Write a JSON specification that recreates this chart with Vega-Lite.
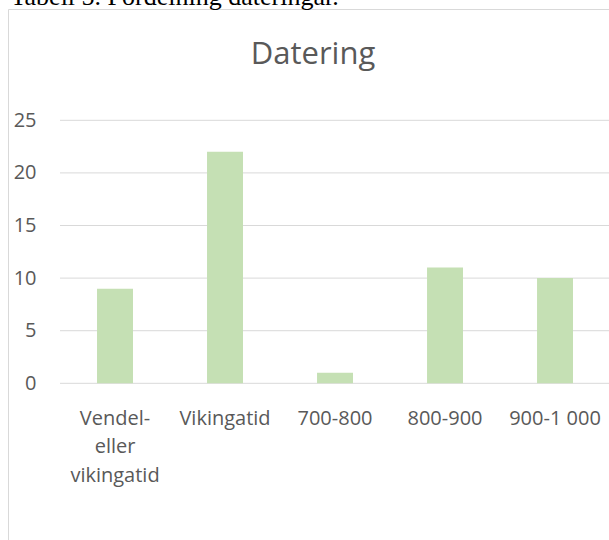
{
  "$schema": "https://vega.github.io/schema/vega-lite/v6.json",
  "autosize": {"type": "none"},
  "padding": {"left": 8, "top": 9, "right": 0, "bottom": 0},
  "width": 640,
  "height": 560,
  "background": "white",
  "config": {
    "view": {"stroke": "#d9d9d9", "strokeWidth": 1},
    "font": "Open Sans"
  },
  "title": {
    "text": "Datering",
    "anchor": "middle",
    "frame": "group",
    "orient": "top",
    "offset": 0,
    "baseline": "alphabetic",
    "dy": 112,
    "dx": -15,
    "font": "Open Sans",
    "fontSize": 31,
    "fontWeight": "normal",
    "color": "#595959"
  },
  "datasets": {
    "bars": [
      {"kategori": "Vendel- eller vikingatid", "antal": 9},
      {"kategori": "Vikingatid", "antal": 22},
      {"kategori": "700-800", "antal": 1},
      {"kategori": "800-900", "antal": 11},
      {"kategori": "900-1 000", "antal": 10}
    ],
    "grid": [
      {"v": 0}, {"v": 5}, {"v": 10}, {"v": 15}, {"v": 20}, {"v": 25}
    ]
  },
  "layer": [
    {
      "data": {"name": "grid"},
      "mark": {"type": "rule", "color": "#d9d9d9", "strokeWidth": 1},
      "encoding": {
        "y": {"field": "v", "type": "quantitative"},
        "x": {"datum": "Vendel- eller vikingatid", "type": "nominal", "bandPosition": 0},
        "x2": {"value": "width"}
      }
    },
    {
      "data": {"name": "bars"},
      "mark": {"type": "bar", "color": "#C5E0B4", "width": {"band": 0.327}},
      "encoding": {
        "x": {
          "field": "kategori",
          "type": "nominal",
          "sort": null,
          "scale": {
            "domain": ["Vendel- eller vikingatid", "Vikingatid", "700-800", "800-900", "900-1 000"],
            "paddingInner": 0,
            "paddingOuter": 0.409,
            "align": 0.578
          },
          "axis": {
            "orient": "bottom",
            "offset": -185.7,
            "bandPosition": 0.5,
            "domain": false,
            "ticks": false,
            "tickSize": 0,
            "grid": false,
            "title": null,
            "labelAngle": 0,
            "labelAlign": "center",
            "labelPadding": 25,
            "labelBaseline": "top",
            "labelLineHeight": 28.5,
            "labelFont": "Open Sans",
            "labelFontSize": 20,
            "labelColor": "#595959",
            "labelOverlap": false,
            "labelFlush": false,
            "labelLimit": 300,
            "labelExpr": "datum.value == 'Vendel- eller vikingatid' ? ['Vendel-', 'eller', 'vikingatid'] : datum.label"
          }
        },
        "y": {
          "field": "antal",
          "type": "quantitative",
          "scale": {"domain": [-17.65, 35.58], "nice": false, "zero": false},
          "axis": {
            "values": [0, 5, 10, 15, 20, 25],
            "offset": -30,
            "domain": false,
            "ticks": false,
            "tickSize": 0,
            "grid": false,
            "labelPadding": 2,
            "labelFont": "Open Sans",
            "labelFontSize": 20,
            "labelColor": "#595959",
            "title": "Tabell 5. Fördelning dateringar.",
            "titleAngle": 0,
            "titleAlign": "left",
            "titleBaseline": "alphabetic",
            "titleX": -28,
            "titleY": -5,
            "titleFont": "Liberation Serif",
            "titleFontSize": 26,
            "titleFontWeight": "normal",
            "titleColor": "#000000"
          }
        }
      }
    }
  ]
}
